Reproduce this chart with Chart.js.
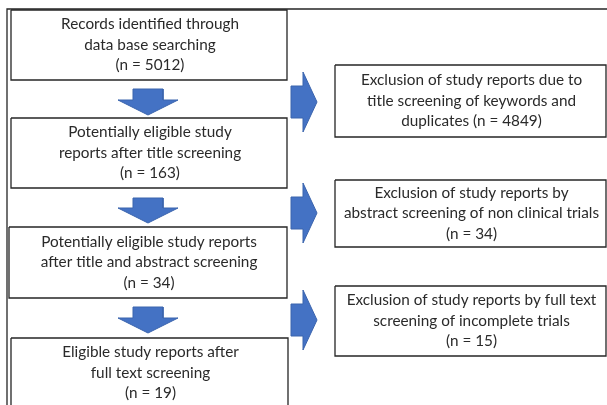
<!DOCTYPE html>
<html>
<head>
<meta charset="utf-8">
<script src="https://cdn.jsdelivr.net/npm/chart.js@4.4.1/dist/chart.umd.min.js"></script>
<style>
  html, body { margin: 0; padding: 0; background: #ffffff; }
  #wrap { width: 607px; height: 405px; }
</style>
</head>
<body>
<div id="wrap"><canvas id="c" width="607" height="405"></canvas></div>
<script>
// ---- content ----
const stepLabels = [
  ["Records identified through", "data base searching"],
  ["Potentially eligible study", "reports after title screening"],
  ["Potentially eligible study reports", "after title and abstract screening"],
  ["Eligible study reports after", "full text screening"]
];
const stepCounts = [5012, 163, 34, 19];
const exclusionLabels = [
  ["Exclusion of study reports due to", "title screening of keywords and", "duplicates"],
  ["Exclusion of study reports by", "abstract screening of non clinical trials", ""],
  ["Exclusion of study reports by full text", "screening of incomplete trials", ""]
];
const exclusionCounts = [4849, 34, 15];

// ---- layout (in the chart's 607 x 405 value space) ----
const stepLeft = [11, 11, 9, 11];
const stepRight = [287, 287, 287, 288];
const stepTop = [10, 118, 227, 338];
const stepBottom = [80, 188, 298, 408];
const exclLeft = 335, exclRight = 606;
const exclTop = [65, 180, 286];
const exclBottom = [137, 247, 356];
const downShaftTop = [89, 198, 307];
const downTip = [115, 223, 333];
const rightArrowMid = [102, 213, 320];
const frameX = 7, frameY = 9;

const BLUE = '#4472C4', BLUE_EDGE = '#3B64AD', BOX_EDGE = '#262626', TEXT = '#2a2a2a';

function rect(l, t, r, b) {
  return [{x:l,y:t},{x:r,y:t},{x:r,y:b},{x:l,y:b},{x:l,y:t}];
}
function downArrow(top, tip) {
  const cx = 148, sw = 15, hw = 30, headStart = tip - 15;
  return [{x:cx-sw,y:top},{x:cx+sw,y:top},{x:cx+sw,y:headStart},{x:cx+hw,y:headStart},
          {x:cx,y:tip},{x:cx-hw,y:headStart},{x:cx-sw,y:headStart},{x:cx-sw,y:top}];
}
function rightArrow(mid) {
  const x0 = 291, xh = 303, tip = 317, sh = 16, hh = 30;
  return [{x:x0,y:mid-sh},{x:xh,y:mid-sh},{x:xh,y:mid-hh},{x:tip,y:mid},
          {x:xh,y:mid+hh},{x:xh,y:mid+sh},{x:x0,y:mid+sh},{x:x0,y:mid-sh}];
}

const datasets = [];
function lineDs(data, color, width, fillColor) {
  datasets.push({
    data, showLine: true, borderColor: color, borderWidth: width,
    pointRadius: 0, pointHoverRadius: 0, tension: 0,
    fill: fillColor ? 'shape' : false, backgroundColor: fillColor || 'transparent'
  });
}
// outer frame (top and left edges)
lineDs([{x:frameX,y:405},{x:frameX,y:frameY},{x:607,y:frameY}], BOX_EDGE, 1.3);
stepTop.forEach((t, i) => lineDs(rect(stepLeft[i], t, stepRight[i], stepBottom[i]), BOX_EDGE, 1.3));
exclTop.forEach((t, i) => lineDs(rect(exclLeft, t, exclRight, exclBottom[i]), BOX_EDGE, 1.3));
downShaftTop.forEach((t, i) => lineDs(downArrow(t, downTip[i]), BLUE_EDGE, 1, BLUE));
rightArrowMid.forEach(m => lineDs(rightArrow(m), BLUE_EDGE, 1, BLUE));

const FONT = '15.3px Lato';
const LINE = 20.5;
const textPlugin = {
  id: 'boxText',
  afterDatasetsDraw(chart) {
    const {ctx, scales: {x, y}} = chart;
    ctx.save();
    ctx.fillStyle = TEXT;
    ctx.font = FONT;
    ctx.textAlign = 'center';
    ctx.textBaseline = 'middle';
    function block(lines, cx, cy) {
      const n = lines.length;
      lines.forEach((s, k) => {
        const vy = cy + (k - (n - 1) / 2) * LINE;
        ctx.fillText(s, x.getPixelForValue(cx), y.getPixelForValue(vy));
      });
    }
    stepLabels.forEach((lab, i) => {
      block(lab.concat(['(n = ' + stepCounts[i] + ')']),
            (stepLeft[i] + stepRight[i]) / 2 + 1, (stepTop[i] + stepBottom[i]) / 2);
    });
    exclusionLabels.forEach((lab, i) => {
      const last = lab[2] ? lab[2] + ' (n = ' + exclusionCounts[i] + ')' : '(n = ' + exclusionCounts[i] + ')';
      block([lab[0], lab[1], last], (exclLeft + exclRight) / 2 + 1, (exclTop[i] + exclBottom[i]) / 2);
    });
    ctx.restore();
  }
};

new Chart(document.getElementById('c'), {
  type: 'scatter',
  data: { datasets },
  options: {
    responsive: false,
    animation: false,
    events: [],
    layout: { padding: 0 },
    plugins: { legend: { display: false }, tooltip: { enabled: false } },
    scales: {
      x: { type: 'linear', min: 0, max: 607, display: false },
      y: { type: 'linear', min: 0, max: 405, reverse: true, display: false }
    }
  },
  plugins: [textPlugin]
});
</script>
</body>
</html>
